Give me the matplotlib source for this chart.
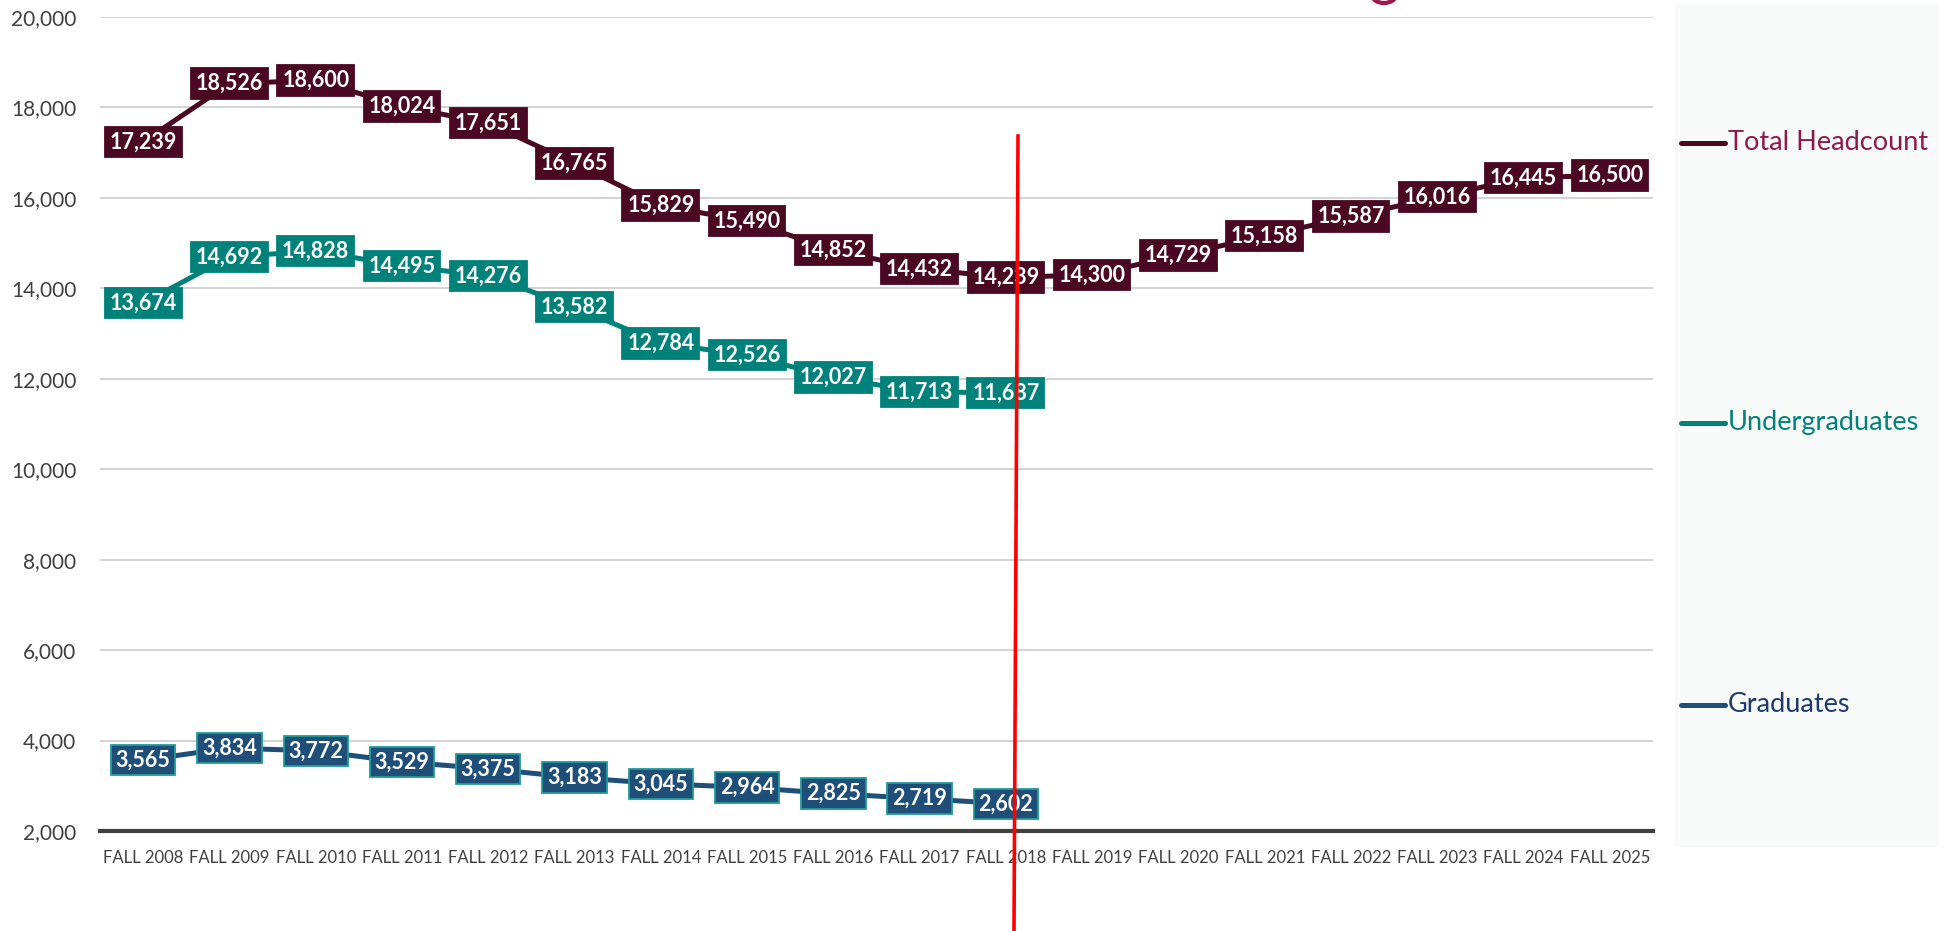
import matplotlib
matplotlib.use("Agg")
import matplotlib.pyplot as plt
from matplotlib.lines import Line2D
from matplotlib.patches import Rectangle, Ellipse
from matplotlib.ticker import FuncFormatter

plt.rcParams["font.family"] = ["Lato", "DejaVu Sans"]

# data
terms = ["FALL 2008", "FALL 2009", "FALL 2010", "FALL 2011", "FALL 2012", "FALL 2013",
         "FALL 2014", "FALL 2015", "FALL 2016", "FALL 2017", "FALL 2018", "FALL 2019",
         "FALL 2020", "FALL 2021", "FALL 2022", "FALL 2023", "FALL 2024", "FALL 2025"]
total = [17239, 18526, 18600, 18024, 17651, 16765, 15829, 15490, 14852, 14432, 14239,
         14300, 14729, 15158, 15587, 16016, 16445, 16500]
undergrad = [13674, 14692, 14828, 14495, 14276, 13582, 12784, 12526, 12027, 11713, 11687]
grad = [3565, 3834, 3772, 3529, 3375, 3183, 3045, 2964, 2825, 2719, 2602]

series = [
    ("Total Headcount", total, "#4a0822", "#4a0822", "#8c1a4b", 143),
    ("Undergraduates", undergrad, "#00827b", "#00827b", "#00827b", 423),
    ("Graduates", grad, "#1f4e79", "#1f9c98", "#1f3a68", 705),
]

W, H = 1953, 931
fig = plt.figure(figsize=(W / 100, H / 100), dpi=100)
ax = fig.add_axes([100 / W, 1 - 831 / H, 1553 / W, 814 / H])

# legend panel behind everything on the right
fig.patches.append(Rectangle((1675 / W, 1 - 847 / H), 264 / W, 844 / H,
                             transform=fig.transFigure, facecolor="#f8f9f9",
                             edgecolor="none", zorder=0))

x = list(range(len(terms)))
for name, vals, col, edge, tcol, ly in series:
    xs = x[:len(vals)]
    ax.plot(xs, vals, color=col, lw=3.6, solid_capstyle="round", zorder=2)
    for xi, v in zip(xs, vals):
        ax.text(xi, v, f"{v:,}", ha="center", va="center", color="white",
                fontsize=15.5, fontweight="bold", zorder=4,
                bbox=dict(boxstyle="square,pad=0.22", facecolor=col,
                          edgecolor=edge, linewidth=1.3))
    # legend entry
    fig.lines.append(Line2D([1681 / W, 1725 / W], [1 - ly / H, 1 - ly / H],
                            transform=fig.transFigure, color=col, lw=3.6,
                            solid_capstyle="round"))
    fig.text(1728 / W, 1 - ly / H, name, color=tcol, fontsize=19.5,
             ha="left", va="center")

ax.set_xlim(-0.5, len(terms) - 0.5)
ax.set_ylim(2000, 20000)
ax.set_yticks(range(2000, 20001, 2000))
ax.yaxis.set_major_formatter(FuncFormatter(lambda v, p: f"{int(v):,}"))
ax.set_xticks(x)
ax.set_xticklabels(terms)
ax.tick_params(axis="y", length=0, pad=17, labelsize=15, labelcolor="#404040")
ax.tick_params(axis="x", length=0, pad=14, labelsize=12, labelcolor="#404040")
ax.grid(axis="y", color="#d0d0d0", lw=1.3, zorder=0)
ax.set_axisbelow(True)
for s in ["top", "right", "left"]:
    ax.spines[s].set_visible(False)
ax.spines["bottom"].set_color("#404040")
ax.spines["bottom"].set_linewidth(3)
ax.patch.set_alpha(0)

# red divider line drawn across the figure
fig.lines.append(Line2D([1018 / W, 1014 / W], [1 - 136 / H, 0],
                        transform=fig.transFigure, color="#ff0000", lw=2.6, zorder=10))

# cut-off shape peeking in at the top
fig.patches.append(Ellipse((1384 / W, 1 + 5 / H), 24 / W, 16 / H,
                           transform=fig.transFigure, facecolor="none",
                           edgecolor="#9b1b4a", lw=3))

fig.savefig("out.png", dpi=100)
